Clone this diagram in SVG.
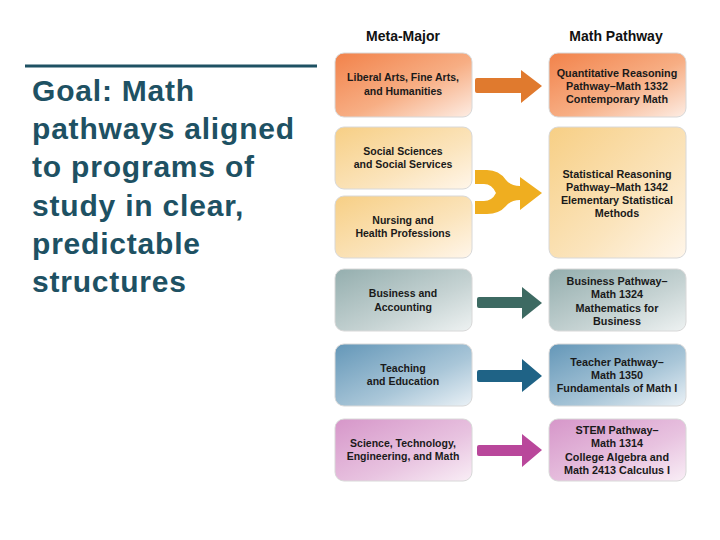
<svg xmlns="http://www.w3.org/2000/svg" width="720" height="540" viewBox="0 0 720 540">
<defs>
<linearGradient id="gOr" x1="0" y1="0" x2="1" y2="1"><stop offset="0" stop-color="#F2824A"/><stop offset="0.55" stop-color="#F7AE84"/><stop offset="1" stop-color="#FDEDE4"/></linearGradient>
<linearGradient id="gYe" x1="0" y1="0" x2="1" y2="1"><stop offset="0" stop-color="#F7CF85"/><stop offset="0.6" stop-color="#FBE4BC"/><stop offset="1" stop-color="#FFF6EA"/></linearGradient>
<linearGradient id="gGr" x1="0" y1="0" x2="1" y2="1"><stop offset="0" stop-color="#94AEAE"/><stop offset="0.6" stop-color="#C6D3D3"/><stop offset="1" stop-color="#EEF2F2"/></linearGradient>
<linearGradient id="gBl" x1="0" y1="0" x2="1" y2="1"><stop offset="0" stop-color="#6497B8"/><stop offset="0.6" stop-color="#A9C6D8"/><stop offset="1" stop-color="#EAF1F6"/></linearGradient>
<linearGradient id="gPk" x1="0" y1="0" x2="1" y2="1"><stop offset="0" stop-color="#D696C9"/><stop offset="0.6" stop-color="#E8C3E0"/><stop offset="1" stop-color="#F9EEF6"/></linearGradient>
</defs>
<style>
.goal{font-family:"Liberation Sans",Arial,sans-serif;font-weight:bold;font-size:30px;fill:#1E5163;letter-spacing:0.8px}
.hd{font-family:"Liberation Sans",Arial,sans-serif;font-weight:bold;font-size:14px;fill:#111;text-anchor:middle}
.bx{stroke:#D8D8D8;stroke-width:1}
.t{font-family:"Liberation Sans",Arial,sans-serif;font-weight:bold;font-size:10.5px;fill:#1A1A1A;text-anchor:middle}
.tr{font-size:10.8px}
</style>
<rect width="720" height="540" fill="#FFFFFF"/>
<line x1="25" y1="66" x2="317" y2="66" stroke="#1E5163" stroke-width="3"/>
<text class="goal" x="32" y="101">Goal: Math</text>
<text class="goal" x="32" y="139">pathways aligned</text>
<text class="goal" x="32" y="177">to programs of</text>
<text class="goal" x="32" y="216">study in clear,</text>
<text class="goal" x="32" y="254">predictable</text>
<text class="goal" x="32" y="292">structures</text>

<text class="hd" x="403" y="41">Meta-Major</text>
<text class="hd" x="616" y="41">Math Pathway</text>

<g id="mm-liberal"><rect class="bx" x="335" y="53" width="137" height="64" rx="9" fill="url(#gOr)"/>
<text class="t" x="403" y="81">Liberal Arts, Fine Arts,</text><text class="t" x="403" y="95">and Humanities</text></g>
<g id="mm-social"><rect class="bx" x="335" y="127" width="137" height="62" rx="9" fill="url(#gYe)"/>
<text class="t" x="403" y="155">Social Sciences</text><text class="t" x="403" y="168">and Social Services</text></g>
<g id="mm-nursing"><rect class="bx" x="335" y="196" width="137" height="62" rx="9" fill="url(#gYe)"/>
<text class="t" x="403" y="224">Nursing and</text><text class="t" x="403" y="237">Health Professions</text></g>
<g id="mm-business"><rect class="bx" x="335" y="269" width="137" height="62" rx="9" fill="url(#gGr)"/>
<text class="t" x="403" y="297">Business and</text><text class="t" x="403" y="311">Accounting</text></g>
<g id="mm-teaching"><rect class="bx" x="335" y="344" width="137" height="62" rx="9" fill="url(#gBl)"/>
<text class="t" x="403" y="372">Teaching</text><text class="t" x="403" y="385">and Education</text></g>
<g id="mm-stem"><rect class="bx" x="335" y="419" width="137" height="62" rx="9" fill="url(#gPk)"/>
<text class="t" x="403" y="447">Science, Technology,</text><text class="t" x="403" y="460">Engineering, and Math</text></g>

<g id="mp-quant"><rect class="bx" x="549" y="53" width="137" height="64" rx="9" fill="url(#gOr)"/>
<text class="t tr" x="617" y="77">Quantitative Reasoning</text><text class="t tr" x="617" y="90">Pathway–Math 1332</text><text class="t tr" x="617" y="103">Contemporary Math</text></g>
<g id="mp-stat"><rect class="bx" x="549" y="127" width="137" height="131" rx="9" fill="url(#gYe)"/>
<text class="t tr" x="617" y="178">Statistical Reasoning</text><text class="t tr" x="617" y="191">Pathway–Math 1342</text><text class="t tr" x="617" y="204">Elementary Statistical</text><text class="t tr" x="617" y="217">Methods</text></g>
<g id="mp-business"><rect class="bx" x="549" y="269" width="137" height="62" rx="9" fill="url(#gGr)"/>
<text class="t tr" x="617" y="285">Business Pathway–</text><text class="t tr" x="617" y="298">Math 1324</text><text class="t tr" x="617" y="312">Mathematics for</text><text class="t tr" x="617" y="325">Business</text></g>
<g id="mp-teacher"><rect class="bx" x="549" y="344" width="137" height="62" rx="9" fill="url(#gBl)"/>
<text class="t tr" x="617" y="366">Teacher Pathway–</text><text class="t tr" x="617" y="379">Math 1350</text><text class="t tr" x="617" y="392">Fundamentals of Math I</text></g>
<g id="mp-stem"><rect class="bx" x="549" y="419" width="137" height="62" rx="9" fill="url(#gPk)"/>
<text class="t tr" x="617" y="434">STEM Pathway–</text><text class="t tr" x="617" y="447">Math 1314</text><text class="t tr" x="617" y="461">College Algebra and</text><text class="t tr" x="617" y="474">Math 2413 Calculus I</text></g>

<g id="connectors">
<path d="M477,78 L521,78 L521,70 L542,86 L521,103 L521,93 L477,93 Q475,93 475,91 L475,80 Q475,78 477,78 Z" fill="#E07A2E"/>
<path d="M475,170 L487,170 Q499,170 506,180 Q511,186 520,186 L520,177 L542,193 L520,210 L520,200 Q511,200 506,206 Q499,214 487,214 L475,214 L475,201 L484,201 Q492,201 496,193 Q492,184 484,184 L475,184 Z" fill="#EFAE20"/>
<path d="M479,297 L522,297 L522,287 L542,303 L522,319 L522,308 L479,308 Q477,308 477,306 L477,299 Q477,297 479,297 Z" fill="#3D6A62"/>
<path d="M479,370 L522,370 L522,359 L542,376 L522,392 L522,382 L479,382 Q477,382 477,380 L477,372 Q477,370 479,370 Z" fill="#1F6386"/>
<path d="M479,445 L522,445 L522,434 L542,450 L522,467 L522,456 L479,456 Q477,456 477,454 L477,447 Q477,445 479,445 Z" fill="#B9479B"/>
</g>
</svg>
